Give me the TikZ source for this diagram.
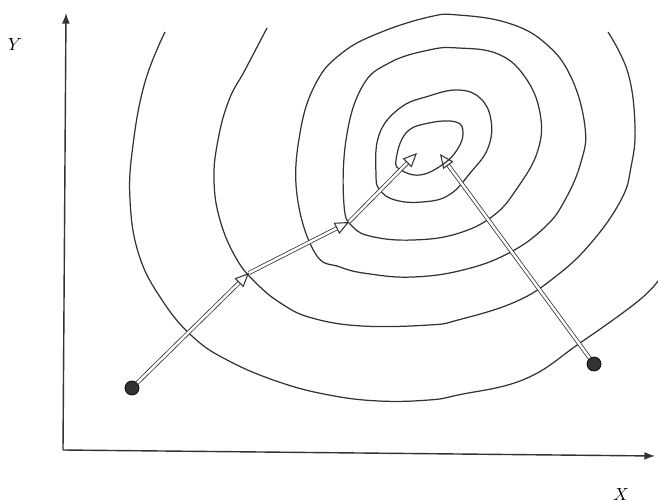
\documentclass[tikz,border=0pt]{standalone}
\usepackage{xcolor}
\usepackage{amsmath, amssymb}
\usetikzlibrary{arrows.meta}

\definecolor{ink}{HTML}{333333}

\begin{document}
\begin{tikzpicture}[x=0.02cm, y=-0.02cm,
  contour/.style={ink, line width=0.7pt},
  grad/.style={ink, line width=0.45pt, double=white, double distance=1.4pt,
    -{Triangle[open, length=8pt, width=7pt, line width=0.6pt]}},
  dot/.style={circle, fill=ink, draw=black, inner sep=0pt, minimum size=8pt}]
\useasboundingbox (0,0) rectangle (658,502);

% Axes
\coordinate (O) at (63,450);
\coordinate (ytop) at (66,13);
\coordinate (xend) at (655,456);
\draw[ink, line width=0.8pt, -{Latex[length=6pt, width=4.5pt]}] (O) -- (ytop);
\draw[ink, line width=0.8pt, -{Latex[length=6pt, width=4.5pt]}] (O) -- (xend);
\node (ylab) at (15,45) {$Y$};
\node (xlab) at (621,494) {$X$};

% Closed contours round the optimum
\draw[contour] plot[smooth cycle, tension=0.7] coordinates {(396,160) (406,133) (429,123) (456,122) (463,133) (457,150) (442,165) (420,175) (401,170)};
\draw[contour] plot[smooth cycle, tension=0.7] coordinates {(376,175) (379,135) (400,108) (429,96) (458,90) (480,98) (491,120) (488,148) (471,172) (449,195) (422,202) (395,200) (380,190)};
\draw[contour] plot[smooth cycle, tension=0.7] coordinates {(344,205) (346,140) (362,87) (389,63) (429,50) (458,48) (498,54) (525,77) (540,113) (538,150) (518,187) (493,216) (456,234) (413,240) (374,237) (353,227)};
\draw[contour] plot[smooth cycle, tension=0.7] coordinates {(297,195) (300,133) (316,83) (342,53) (379,33) (429,17) (458,15) (508,23) (545,43) (571,77) (585,127) (581,162) (565,200) (545,227) (509,253) (463,270) (413,277) (370,274) (340,267) (315,253)};

% Open contours
\draw[contour] plot[smooth, tension=0.7] coordinates {(267,28) (245,70) (229,100) (218,140) (214,180) (220,220) (236,258) (256,283) (282,304) (312,318) (362,326) (429,325) (458,320) (515,302) (555,277) (591,243) (621,200) (631,167) (635,127) (628,73) (608,32)};
\draw[contour] plot[smooth, tension=0.7] coordinates {(165,32) (145,82) (133,145) (130,200) (139,255) (162,300) (193,337) (229,361) (279,382) (329,395) (379,401) (429,400) (458,395) (525,379) (580,343) (637,302) (658,281)};

% Search paths
\node[dot] (p1) at (132,388) {};
\node[dot] (p2) at (594,364) {};
\coordinate (s1) at (249,273);
\coordinate (s2) at (349,222);
\coordinate (s3) at (417,153);
\coordinate (s4) at (440,154);
\draw[grad] (p1) -- (s1);
\draw[grad] (s1) -- (s2);
\draw[grad] (s2) -- (s3);
\draw[grad] (p2) -- (s4);

\end{tikzpicture}
\end{document}
